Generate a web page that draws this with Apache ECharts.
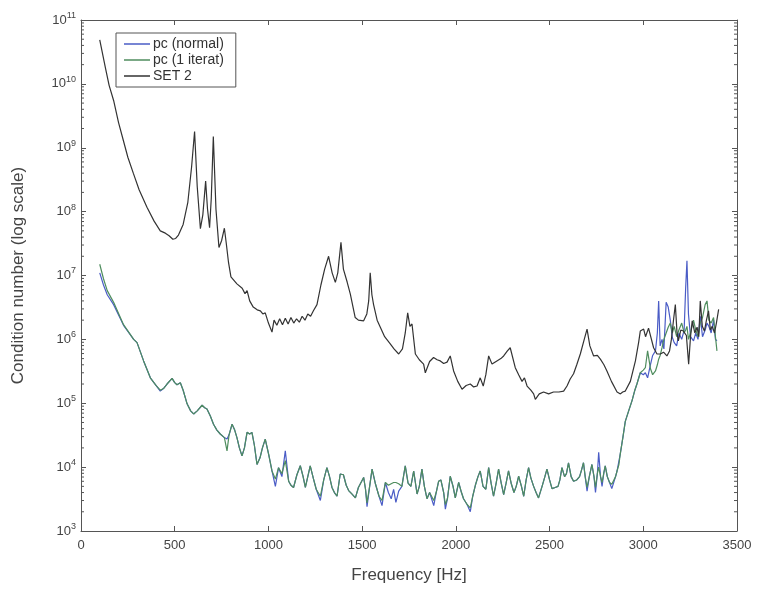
<!DOCTYPE html>
<html>
<head>
<meta charset="utf-8">
<script src="https://cdn.jsdelivr.net/npm/echarts@6/dist/echarts.min.js"></script>
<style>
html,body{margin:0;padding:0;background:#fff;}
#chart{width:757px;height:591px;}
</style>
</head>
<body>
<div id="chart"></div>
<script>
// ---- data ----
const seriesNames = ['pc (normal)', 'pc (1 iterat)', 'SET 2'];
const xTicks = [0, 500, 1000, 1500, 2000, 2500, 3000, 3500];

const setFreq = [100,130,150,174,200,226,250,279,310,352,390,423,450,470,490,505,520,545,570,590,606,620,637,650,665,675,686,695,706,720,736,750,765,775,787,800,832,860,875,886,900,919,940,957,970,983,1000,1019,1030,1045,1060,1075,1090,1105,1120,1135,1150,1165,1180,1195,1210,1225,1240,1259,1280,1300,1321,1340,1357,1370,1387,1400,1420,1437,1463,1480,1508,1525,1535,1543,1552,1561,1580,1597,1620,1650,1670,1695,1715,1730,1743,1755,1766,1784,1805,1828,1837,1860,1881,1900,1917,1935,1953,1970,1988,2010,2033,2055,2077,2095,2113,2130,2146,2160,2175,2193,2219,2240,2255,2275,2290,2317,2335,2353,2366,2380,2400,2415,2424,2445,2468,2495,2521,2550,2575,2593,2610,2628,2645,2664,2685,2700,2715,2735,2755,2771,2790,2806,2830,2860,2878,2890,2904,2931,2958,2975,2984,3002,3012,3020,3028,3038,3055,3073,3091,3108,3126,3140,3150,3162,3171,3180,3187,3200,3214,3230,3242,3252,3261,3275,3287,3296,3304,3315,3326,3337,3348,3358,3368,3380,3390,3402];
const setValues = [4.9e10,1.8e10,9.5e9,5.5e9,2.5e9,1.3e9,7.1e8,4.0e8,2.2e8,1.17e8,7.1e7,5.0e7,4.6e7,4.2e7,3.7e7,3.8e7,4.3e7,6.3e7,1.4e8,5.0e8,1.8e9,2.5e8,5.4e7,8.9e7,3.0e8,1.1e8,5.6e7,1.6e8,1.5e9,1.1e8,2.75e7,3.5e7,5.5e7,3.2e7,1.6e7,9.5e6,7.4e6,6.3e6,5.2e6,5.8e6,4.0e6,3.2e6,2.9e6,2.8e6,2.5e6,2.6e6,1.8e6,1.3e6,2.0e6,1.66e6,2.1e6,1.7e6,2.14e6,1.74e6,2.2e6,1.8e6,2.1e6,1.86e6,2.3e6,2.0e6,2.5e6,2.3e6,2.8e6,3.5e6,7.1e6,1.26e7,2.0e7,1.1e7,7.8e6,1.1e7,3.3e7,1.26e7,7.9e6,5.1e6,2.2e6,2.0e6,1.95e6,2.5e6,4.0e6,1.1e7,5.0e6,3.5e6,2.0e6,1.55e6,1.1e6,8.5e5,7.1e5,5.9e5,7.1e5,1.26e6,2.6e6,1.6e6,1.74e6,5.9e5,4.8e5,4.1e5,3.0e5,4.5e5,5.2e5,4.8e5,4.6e5,4.2e5,4.4e5,5.5e5,3.2e5,2.2e5,1.66e5,1.9e5,2.0e5,1.8e5,1.86e5,2.5e5,1.86e5,2.8e5,5.5e5,4.1e5,4.6e5,5.0e5,5.5e5,6.6e5,7.4e5,3.6e5,2.8e5,2.2e5,2.5e5,1.86e5,1.6e5,1.4e5,1.15e5,1.4e5,1.5e5,1.4e5,1.5e5,1.5e5,1.55e5,1.86e5,2.4e5,2.9e5,4.0e5,5.9e5,1.0e6,1.45e6,7.9e5,5.5e5,5.6e5,4.9e5,4.0e5,3.2e5,2.2e5,1.5e5,1.4e5,1.5e5,1.55e5,2.2e5,4.6e5,8.9e5,1.35e6,1.45e6,1.1e6,1.07e6,1.5e6,1.45e6,7.4e5,5.9e5,5.9e5,6.3e5,5.5e5,6.6e5,1.0e6,2.1e6,3.5e6,1.26e6,9.5e5,1.4e6,1.35e6,1.15e6,4.1e5,1.1e6,1.95e6,1.26e6,1.55e6,1.1e6,4.0e6,1.6e6,1.35e6,2.0e6,2.8e6,1.4e6,1.6e6,1.26e6,1.8e6,2.95e6];

const pcFreq = [100,120,140,174,227,281,299,334,370,400,423,440,459,486,500,512,530,545,566,585,601,620,646,660,672,690,707,725,743,765,779,790,806,820,832,845,859,872,886,900,912,925,939,955,968,983,1001,1019,1037,1054,1072,1090,1108,1120,1134,1152,1170,1185,1197,1210,1223,1240,1255,1277,1295,1312,1326,1339,1352,1366,1383,1400,1415,1428,1445,1464,1480,1508,1518,1526,1540,1553,1570,1590,1606,1624,1640,1655,1668,1680,1695,1712,1730,1745,1760,1775,1793,1805,1819,1832,1846,1860,1882,1895,1908,1920,1935,1944,1955,1970,1985,1997,2015,2030,2041,2060,2077,2090,2104,2118,2130,2145,2160,2175,2188,2201,2215,2228,2242,2255,2268,2281,2295,2310,2322,2335,2350,2362,2375,2388,2400,2415,2428,2441,2460,2475,2486,2500,2513,2530,2545,2555,2566,2580,2590,2601,2615,2628,2645,2660,2670,2681,2690,2700,2712,2726,2737,2745,2755,2762,2772,2780,2790,2797,2808,2820,2832,2842,2852,2860,2870,2877,2891,2904,2922,2940,2955,2966,2984,3000,3011,3023,3038,3050,3065,3075,3082,3090,3100,3110,3122,3133,3144,3155,3165,3178,3190,3205,3218,3226,3233,3241,3252,3268,3280,3292,3304,3316,3330,3340,3350,3362,3375,3385,3393];

const pcNormal = [1.1e7,7.1e6,5.0e6,3.5e6,1.66e6,1.0e6,8.9e5,4.6e5,2.5e5,1.9e5,1.55e5,1.7e5,2.0e5,2.45e5,2.1e5,1.95e5,2.1e5,1.6e5,9.8e4,7.6e4,6.8e4,7.6e4,9.3e4,8.5e4,8.1e4,6.3e4,4.7e4,3.8e4,3.3e4,2.9e4,2.75e4,3.2e4,4.7e4,3.8e4,2.9e4,2.0e4,1.5e4,2.0e4,3.5e4,3.3e4,3.5e4,2.2e4,1.1e4,1.4e4,2.0e4,2.75e4,1.6e4,8.7e3,5.0e3,9.8e3,7.1e3,1.8e4,6.0e3,5.2e3,4.8e3,7.6e3,1.05e4,7.1e3,4.8e3,7.1e3,1.05e4,6.6e3,4.5e3,3.0e3,6.3e3,9.8e3,7.1e3,4.8e3,4.0e3,3.5e3,7.8e3,7.6e3,5.2e3,4.3e3,3.8e3,3.3e3,4.8e3,6.9e3,4.5e3,2.4e3,5.0e3,9.3e3,5.6e3,3.5e3,2.5e3,5.75e3,4.0e3,3.2e3,4.5e3,2.8e3,4.2e3,5.0e3,1.05e4,5.6e3,5.0e3,8.7e3,3.8e3,5.0e3,9.3e3,5.0e3,3.2e3,4.0e3,2.5e3,4.0e3,6.0e3,6.3e3,4.0e3,2.2e3,3.2e3,7.2e3,5.0e3,3.3e3,5.75e3,4.0e3,3.2e3,2.6e3,2.0e3,3.5e3,5.2e3,7.1e3,8.7e3,5.0e3,4.5e3,9.8e3,5.6e3,3.5e3,5.6e3,9.3e3,5.6e3,3.7e3,5.6e3,8.7e3,5.6e3,4.0e3,5.0e3,7.2e3,5.0e3,3.5e3,6.3e3,9.8e3,6.8e3,5.0e3,4.0e3,3.3e3,5.0e3,7.1e3,9.3e3,6.3e3,4.6e3,4.8e3,5.0e3,6.3e3,9.8e3,7.1e3,7.9e3,1.17e4,7.1e3,6.0e3,6.3e3,7.1e3,8.9e3,1.17e4,7.1e3,4.2e3,7.1e3,1.1e4,7.1e3,4.0e3,7.9e3,1.7e4,7.1e3,5.0e3,8.3e3,1.05e4,7.1e3,5.75e3,4.6e3,4.6e3,7.1e3,8.7e3,8.9e3,1.6e4,2.9e4,5.2e4,7.6e4,1.1e5,1.6e5,2.0e5,3.0e5,2.8e5,3.0e5,2.5e5,4.0e5,5.6e5,6.6e5,1.26e6,4.0e6,7.9e5,1.0e6,7.1e5,3.8e6,3.2e6,2.0e6,1.07e6,8.9e5,7.9e5,1.26e6,1.0e6,1.4e6,6.3e6,1.7e7,2.5e6,1.1e6,9.5e5,1.26e6,1.0e6,2.3e6,1.1e6,1.4e6,1.8e6,1.6e6,1.26e6,2.0e6,1.0e6,9.5e5];

const pcIterat = [1.5e7,8.9e6,5.8e6,3.8e6,1.7e6,1.0e6,8.9e5,4.6e5,2.5e5,1.9e5,1.6e5,1.7e5,2.0e5,2.45e5,2.1e5,1.95e5,2.1e5,1.6e5,9.8e4,7.6e4,6.8e4,7.6e4,9.3e4,8.5e4,8.1e4,6.3e4,4.7e4,3.8e4,3.3e4,2.9e4,1.8e4,3.2e4,4.7e4,3.8e4,2.9e4,2.0e4,1.5e4,2.0e4,3.5e4,3.3e4,3.5e4,2.2e4,1.1e4,1.4e4,2.0e4,2.75e4,1.6e4,8.7e3,6.5e3,9.8e3,7.9e3,1.26e4,6.0e3,5.2e3,4.8e3,7.6e3,1.05e4,7.1e3,4.8e3,7.1e3,1.05e4,6.6e3,4.5e3,3.5e3,6.3e3,9.8e3,7.1e3,4.8e3,4.0e3,3.5e3,7.8e3,7.6e3,5.2e3,4.3e3,3.8e3,3.3e3,4.8e3,6.9e3,4.5e3,2.75e3,5.0e3,9.3e3,5.6e3,3.5e3,3.0e3,5.75e3,5.2e3,5.5e3,5.75e3,5.75e3,5.5e3,5.0e3,1.05e4,5.6e3,5.0e3,8.7e3,3.8e3,5.0e3,9.3e3,5.0e3,3.2e3,4.0e3,3.0e3,4.0e3,6.0e3,6.3e3,4.0e3,2.6e3,3.2e3,7.2e3,5.0e3,3.3e3,5.75e3,4.0e3,3.2e3,2.6e3,2.3e3,3.5e3,5.2e3,7.1e3,8.7e3,5.0e3,4.5e3,9.8e3,5.6e3,3.5e3,5.6e3,9.3e3,5.6e3,3.7e3,5.6e3,8.7e3,5.6e3,4.0e3,5.0e3,7.2e3,5.0e3,3.5e3,6.3e3,9.8e3,6.8e3,5.0e3,4.0e3,3.3e3,5.0e3,7.1e3,9.3e3,6.3e3,4.6e3,4.8e3,5.0e3,6.3e3,9.8e3,7.1e3,7.9e3,1.17e4,7.1e3,6.0e3,6.3e3,7.1e3,8.9e3,1.17e4,7.1e3,4.8e3,7.1e3,1.1e4,7.1e3,4.8e3,7.9e3,1.0e4,7.1e3,5.75e3,8.3e3,1.05e4,7.1e3,5.75e3,5.4e3,5.1e3,7.1e3,8.7e3,1.1e4,1.6e4,2.9e4,5.2e4,7.6e4,1.1e5,1.6e5,2.0e5,3.0e5,3.3e5,3.6e5,6.6e5,3.5e5,2.8e5,3.2e5,4.0e5,4.9e5,5.6e5,7.4e5,1.0e6,1.26e6,1.55e6,1.8e6,1.26e6,1.6e6,1.1e6,1.4e6,1.8e6,1.26e6,1.4e6,1.6e6,1.0e6,1.26e6,2.0e6,1.4e6,1.1e6,1.8e6,2.2e6,3.5e6,4.0e6,2.0e6,1.8e6,2.2e6,1.1e6,6.6e5];

// ---- build ----
function pairs(xs, ys) { return xs.map((x, i) => [x, ys[i]]); }

const minorTickVals = [];
for (let e = 3; e < 11; e++) {
  for (let m = 2; m <= 9; m++) minorTickVals.push([0, m * Math.pow(10, e)]);
}

const axisColor = '#555';
const textColor = '#444';
const fontFamily = '"Liberation Sans", Arial, Helvetica, sans-serif';

const chart = echarts.init(document.getElementById('chart'), null, { renderer: 'canvas' });

const option = {
  backgroundColor: '#fff',
  animation: false,
  textStyle: { fontFamily: fontFamily, color: textColor },
  grid: { left: 81, right: 20, top: 20, bottom: 60, containLabel: false },
  legend: {
    data: seriesNames,
    orient: 'vertical',
    left: 116,
    top: 33,
    icon: 'rect',
    itemWidth: 26,
    itemHeight: 1.5,
    itemGap: 2,
    padding: [4, 12, 4, 8],
    borderColor: '#555',
    borderWidth: 1,
    backgroundColor: '#fff',
    textStyle: { fontSize: 14, lineHeight: 14, color: '#333', fontFamily: fontFamily, padding: [0, 0, 0, -2] }
  },
  xAxis: [
    {
      type: 'value', min: 0, max: 3500, interval: 500, position: 'bottom',
      name: 'Frequency [Hz]', nameLocation: 'middle', nameGap: 36,
      nameTextStyle: { fontSize: 17, color: textColor, fontFamily: fontFamily },
      axisLine: { show: true, onZero: false, lineStyle: { color: axisColor, width: 1 } },
      axisTick: { show: true, inside: true, length: 5, lineStyle: { color: axisColor } },
      axisLabel: { fontSize: 13, color: textColor, margin: 8, fontFamily: fontFamily,
        formatter: v => xTicks.includes(v) ? String(v) : '' },
      splitLine: { show: false }
    },
    {
      type: 'value', min: 0, max: 3500, interval: 500, position: 'top',
      axisLine: { show: true, onZero: false, lineStyle: { color: axisColor, width: 1 } },
      axisTick: { show: true, inside: true, length: 5, lineStyle: { color: axisColor } },
      axisLabel: { show: false },
      splitLine: { show: false }
    }
  ],
  yAxis: [
    {
      type: 'log', logBase: 10, min: 1e3, max: 1e11, splitNumber: 8, position: 'left',
      name: 'Condition number (log scale)', nameLocation: 'middle', nameGap: 54,
      nameTextStyle: { fontSize: 17, color: textColor, fontFamily: fontFamily },
      axisLine: { show: true, onZero: false, lineStyle: { color: axisColor, width: 1 } },
      axisTick: { show: true, inside: true, length: 5, lineStyle: { color: axisColor } },
      axisLabel: {
        margin: 5, color: textColor, fontFamily: fontFamily,
        formatter: v => '{b|10}{s|' + Math.round(Math.log10(v)) + '}',
        rich: {
          b: { fontSize: 13, color: textColor, fontFamily: fontFamily },
          s: { fontSize: 9, color: textColor, fontFamily: fontFamily, verticalAlign: 'top', padding: [0, 0, 9, 0] }
        }
      },
      splitLine: { show: false }
    },
    {
      type: 'log', logBase: 10, min: 1e3, max: 1e11, splitNumber: 8, position: 'right',
      axisLine: { show: true, onZero: false, lineStyle: { color: axisColor, width: 1 } },
      axisTick: { show: true, inside: true, length: 5, lineStyle: { color: axisColor } },
      axisLabel: { show: false },
      splitLine: { show: false }
    }
  ],
  series: [
    {
      name: seriesNames[0], type: 'line', data: pairs(pcFreq, pcNormal),
      symbol: 'none', lineStyle: { color: '#4a5cc6', width: 1.2 }, itemStyle: { color: '#4a5cc6' },
      z: 2
    },
    {
      name: seriesNames[1], type: 'line', data: pairs(pcFreq, pcIterat),
      symbol: 'none', lineStyle: { color: '#4f8d5e', width: 1.2 }, itemStyle: { color: '#4f8d5e' },
      z: 3
    },
    {
      name: seriesNames[2], type: 'line', data: pairs(setFreq, setValues),
      symbol: 'none', lineStyle: { color: '#333333', width: 1.2 }, itemStyle: { color: '#333333' },
      z: 4
    },
    {
      name: 'minorTicks', type: 'custom', silent: true, data: minorTickVals, z: 5,
      renderItem: function (params, api) {
        const cs = params.coordSys;
        const p = api.coord([0, api.value(1)]);
        const st = { stroke: axisColor, lineWidth: 1 };
        return {
          type: 'group',
          children: [
            { type: 'line', shape: { x1: cs.x, y1: p[1], x2: cs.x + 3, y2: p[1] }, style: st },
            { type: 'line', shape: { x1: cs.x + cs.width - 3, y1: p[1], x2: cs.x + cs.width, y2: p[1] }, style: st }
          ]
        };
      }
    }
  ]
};
chart.setOption(option);
</script>
</body>
</html>
